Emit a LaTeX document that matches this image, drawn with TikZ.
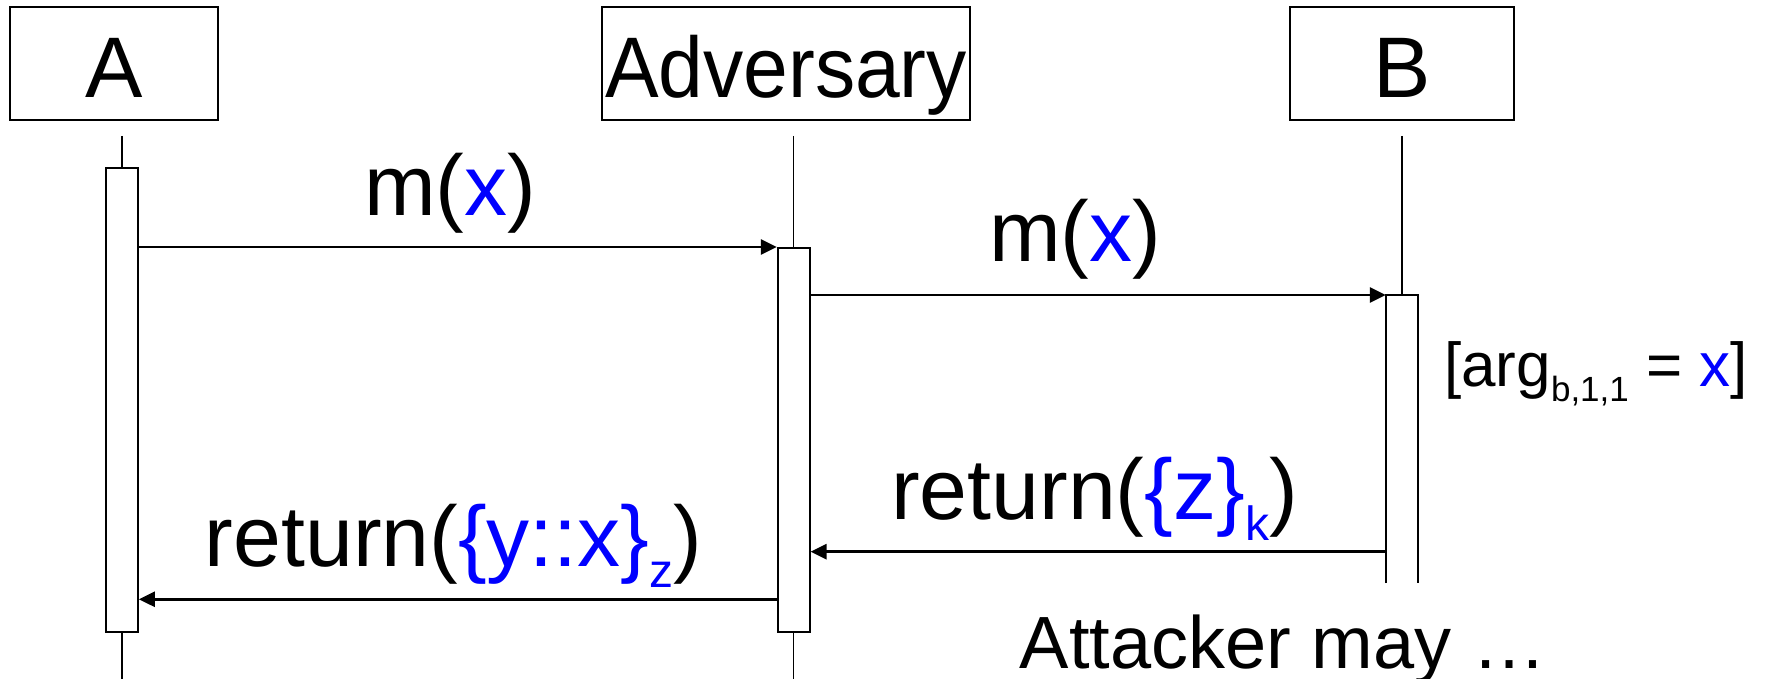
\documentclass[tikz,border=0pt]{standalone}
\usepackage{fontspec}
\usepackage{graphicx}
\setmainfont{Liberation Sans}
\usetikzlibrary{arrows.meta}
\definecolor{myblue}{RGB}{0,0,255}
\newcommand\mysub[1]{\raisebox{-21pt}{\fontsize{48}{48}\selectfont #1}}
\begin{document}
\begin{tikzpicture}[x=1pt,y=-1pt,
  actor/.style={draw,line width=2pt,inner sep=0pt,text height=68pt,text depth=0pt,minimum height=112.7pt,font=\fontsize{86}{90}\selectfont},
  actbar/.style={draw,line width=1.8pt,inner sep=0pt,minimum width=32pt,fill=white},
  life/.style={line width=1.5pt},
  msg/.style={line width=2.7pt,-{Triangle[length=16pt,width=15pt]}},
  lbl/.style={inner sep=0pt,anchor=base,font=\fontsize{86}{90}\selectfont}
]
\useasboundingbox (0,0) rectangle (1767,679);
\coordinate (ltop) at (0,136);
\coordinate (lbot) at (0,679);
\coordinate (y1) at (0,247);
\coordinate (y2) at (0,295);
\coordinate (y3) at (0,551.7);
\coordinate (y4) at (0,599.3);

\node[actor,minimum width=208.4pt] (A) at (113.8,63.7) {A};
\node[actor,minimum width=368pt,text width=368pt,align=center] (M) at (786,63.5) {\scalebox{0.935}[1]{Adversary}};
\node[actor,minimum width=224.6pt] (B) at (1402,63.7) {B};

\node[inner sep=0pt,minimum width=32pt,minimum height=464pt] (pA) at (122,399.7) {};
\node[inner sep=0pt,minimum width=32pt,minimum height=384pt] (pM) at (793.7,439.7) {};
\node[inner sep=0pt,minimum width=32pt,minimum height=287.7pt] (actB) at (1402,439.15) {};

\draw[life] (pA.north |- ltop) -- (pA.north);
\draw[life] (pA.south) -- (pA.south |- lbot);
\draw[life] (pM.north |- ltop) -- (pM.north);
\draw[life] (pM.south) -- (pM.south |- lbot);
\draw[life] (actB.north |- ltop) -- (actB.north);

\node[actbar,minimum height=464pt] (actA) at (122,399.7) {};
\node[actbar,minimum height=384pt] (actM) at (793.7,439.7) {};
\draw[line width=1.8pt] (actB.south west) -- (actB.north west) -- (actB.north east) -- (actB.south east);

\draw[msg] (actA.east |- y1) -- (actM.west |- y1);
\draw[msg] (actM.east |- y2) -- (actB.west |- y2);
\draw[msg] (actB.west |- y3) -- (actM.east |- y3);
\draw[msg] (actM.west |- y4) -- (actA.east |- y4);

\node[lbl] (m1) at (450,215) {m(\textcolor{myblue}{x})};
\node[lbl] (m2) at (1075,261.7) {m(\textcolor{myblue}{x})};
\node[lbl] (r1) at (1094.5,519) {return(\textcolor{myblue}{\{z\}\mysub{k}})};
\node[lbl] (r2) at (453.5,566.7) {return(\textcolor{myblue}{\{y::x\}\mysub{z}})};
\node[inner sep=0pt,anchor=base west,font=\fontsize{62}{66}\selectfont] (arg) at (1444,386.7) {[arg\raisebox{-15pt}{\fontsize{35}{35}\selectfont b,1,1} = \textcolor{myblue}{x}]};
\node[inner sep=0pt,anchor=base,font=\fontsize{74}{78}\selectfont] (att) at (1283,668) {Attacker may …};
\end{tikzpicture}
\end{document}
